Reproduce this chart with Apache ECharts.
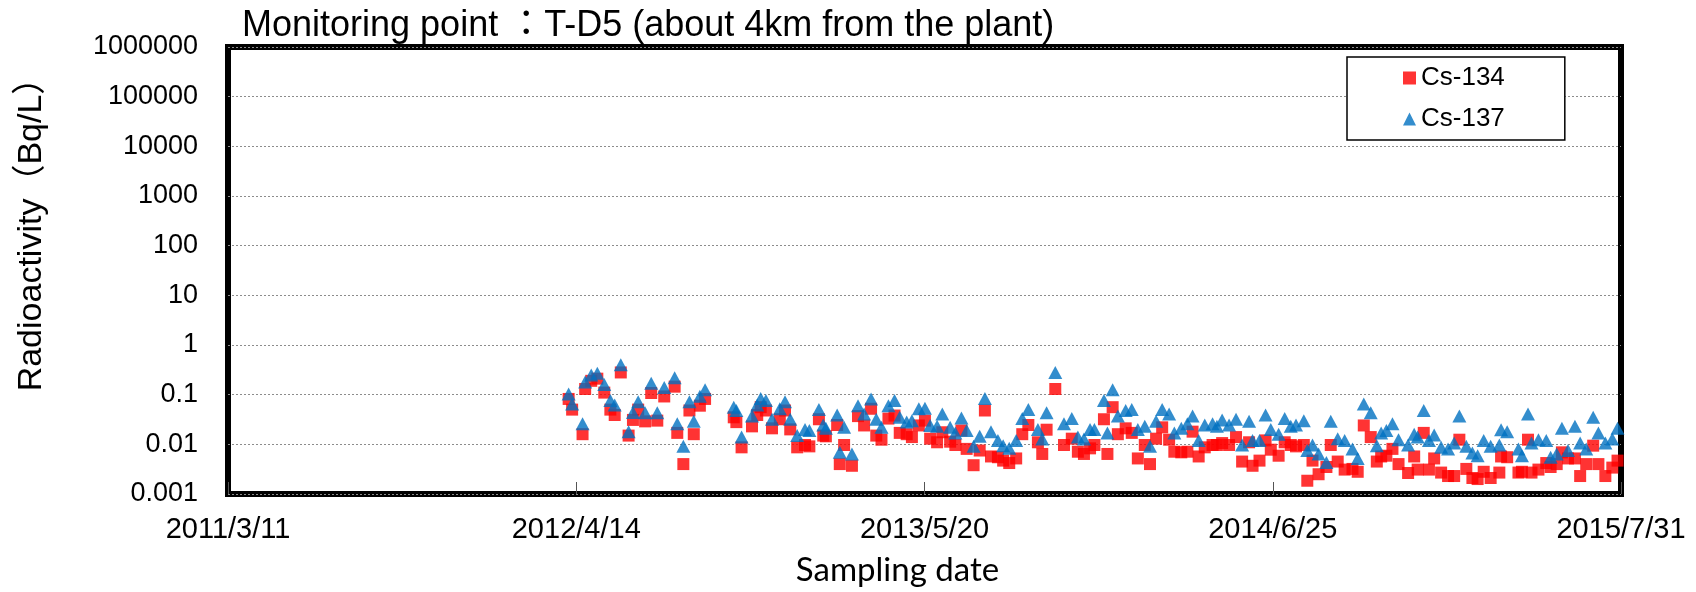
<!DOCTYPE html>
<html>
<head>
    <meta charset="utf-8">
    <style>
        html, body {
            height: 100%;
        }

        * {
            margin: 0;
            padding: 0;
        }

        #container {
            width: 1696px;
            height: 592px;
            background: #fff;
        }
    </style>
</head>
<body>
<div id="container"></div>
<script type="text/javascript" src="https://cdn.jsdelivr.net/npm/echarts@6/dist/echarts.min.js"></script>
<script type="text/javascript">
    // sampling day, counted in days after 2011/3/11
    let sampleDays = [
        392, 396, 408, 411, 418, 425, 433, 440, 445, 452,
        461, 466, 472, 480, 487, 494, 502, 514, 517, 524,
        531, 536, 543, 549, 582, 585, 591, 603, 609, 613,
        619, 626, 635, 641, 647, 655, 664, 669, 680, 685,
        688, 701, 704, 709, 718, 725, 732, 740, 746, 752,
        760, 767, 773, 781, 787, 795, 802, 808, 816, 822,
        831, 837, 844, 850, 858, 865, 871, 878, 886, 892,
        899, 907, 914, 921, 932, 937, 942, 952, 962, 971,
        978, 985, 992, 997, 1008, 1012, 1018, 1024, 1033, 1040,
        1047, 1055, 1061, 1068, 1075, 1083, 1089, 1097, 1104, 1110,
        1117, 1124, 1133, 1138, 1144, 1152, 1160, 1167, 1175, 1179,
        1187, 1194, 1200, 1209, 1216, 1223, 1229, 1238, 1242, 1248,
        1255, 1264, 1269, 1277, 1285, 1294, 1300, 1307, 1315, 1322,
        1327, 1333, 1340, 1347, 1358, 1365, 1369, 1376, 1382, 1388,
        1396, 1404, 1411, 1417, 1425, 1432, 1438, 1445, 1453, 1463,
        1465, 1472, 1485, 1489, 1496, 1500, 1508, 1517, 1522, 1529,
        1535, 1542, 1550, 1556, 1563, 1571, 1577, 1585, 1593, 1599
    ];
    let cs134 = [
        0.082, 0.050, 0.016, 0.13, 0.19, 0.21, 0.11, 0.050, 0.039, 0.28,
        0.015, 0.031, 0.050, 0.029, 0.108, 0.030, 0.092, 0.145, 0.017, 0.004,
        0.048, 0.016, 0.060, 0.082, 0.035, 0.028, 0.0087, 0.023, 0.039, 0.056,
        0.048, 0.021, 0.032, 0.048, 0.020, 0.0087, 0.0097, 0.0091, 0.032, 0.015,
        0.0145, 0.0245, 0.004, 0.0097, 0.0037, 0.037, 0.024, 0.052, 0.015, 0.0124,
        0.033, 0.038, 0.017, 0.016, 0.014, 0.024, 0.030, 0.013, 0.011, 0.0175,
        0.0113, 0.0097, 0.019, 0.0081, 0.0038, 0.0075, 0.048, 0.0057, 0.0055, 0.0047,
        0.0042, 0.0052, 0.016, 0.0245, 0.011, 0.0064, 0.0197, 0.13, 0.0097, 0.013,
        0.0071, 0.0064, 0.0083, 0.0097, 0.032, 0.0064, 0.056, 0.016, 0.021, 0.017,
        0.0052, 0.0097, 0.004, 0.013, 0.022, 0.0124, 0.0071, 0.0069, 0.0071, 0.018,
        0.0057, 0.0087, 0.0097, 0.0097, 0.0106, 0.0097, 0.014, 0.0045, 0.011, 0.0037,
        0.0047, 0.012, 0.0078, 0.0059, 0.011, 0.0097, 0.0091, 0.0097, 0.00185, 0.0047,
        0.0025, 0.0035, 0.0097, 0.0045, 0.0031, 0.0032, 0.0028, 0.024, 0.014, 0.0045,
        0.0057, 0.0059, 0.0081, 0.004, 0.00265, 0.0057, 0.0031, 0.017, 0.0031, 0.0052,
        0.0027, 0.0023, 0.0023, 0.0124, 0.0032, 0.0021, 0.002, 0.0028, 0.0021, 0.0027,
        0.0057, 0.0055, 0.0027, 0.0028, 0.0124, 0.0027, 0.0031, 0.0042, 0.0035, 0.004,
        0.0069, 0.0052, 0.0052, 0.0023, 0.004, 0.0094, 0.004, 0.0023, 0.0034, 0.0047
    ];
    let cs137 = [
        0.103, 0.065, 0.026, 0.18, 0.25, 0.27, 0.16, 0.076, 0.062, 0.40,
        0.018, 0.044, 0.072, 0.043, 0.17, 0.043, 0.14, 0.22, 0.026, 0.0091,
        0.072, 0.029, 0.093, 0.126, 0.056, 0.048, 0.014, 0.037, 0.062, 0.084,
        0.076, 0.032, 0.052, 0.072, 0.032, 0.015, 0.020, 0.019, 0.050, 0.0245,
        0.021, 0.039, 0.0069, 0.022, 0.0064, 0.060, 0.041, 0.082, 0.032, 0.022,
        0.060, 0.076, 0.035, 0.028, 0.030, 0.052, 0.053, 0.024, 0.023, 0.041,
        0.022, 0.017, 0.034, 0.019, 0.0091, 0.0145, 0.084, 0.018, 0.012, 0.0094,
        0.0083, 0.012, 0.033, 0.050, 0.020, 0.0128, 0.043, 0.28, 0.026, 0.033,
        0.014, 0.0128, 0.020, 0.020, 0.076, 0.017, 0.126, 0.037, 0.048, 0.050,
        0.020, 0.023, 0.0091, 0.029, 0.050, 0.041, 0.017, 0.021, 0.026, 0.037,
        0.012, 0.0245, 0.026, 0.023, 0.031, 0.0245, 0.032, 0.0097, 0.029, 0.012,
        0.012, 0.039, 0.020, 0.016, 0.033, 0.023, 0.0245, 0.030, 0.0075, 0.0097,
        0.0064, 0.0043, 0.029, 0.013, 0.012, 0.0081, 0.0052, 0.065, 0.043, 0.0094,
        0.017, 0.019, 0.026, 0.0124, 0.0097, 0.016, 0.014, 0.048, 0.012, 0.0154,
        0.0087, 0.0081, 0.0106, 0.037, 0.0091, 0.0067, 0.0059, 0.012, 0.0091, 0.0097,
        0.0197, 0.018, 0.0081, 0.0059, 0.041, 0.0106, 0.0124, 0.012, 0.0055, 0.0064,
        0.021, 0.0075, 0.023, 0.0106, 0.0081, 0.035, 0.017, 0.0106, 0.0128, 0.021
    ];
    // x axis: 2011/3/11 .. 2015/7/31 split in four equal steps
    let xTickLabels = ['2011/3/11', '2012/4/14', '2013/5/20', '2014/6/25', '2015/7/31'];
    let xSpan = 1603;
    let xStep = xSpan / 4;

    let dom = document.getElementById("container");
    let myChart = echarts.init(dom, null, {renderer: 'canvas'});
    let font = '"Liberation Sans", Arial, "Noto Sans CJK JP", sans-serif';

    function pairs(vals) {
        return vals.map(function (v, i) {
            return [sampleDays[i], v];
        });
    }

    let option = {
        animation: false,
        backgroundColor: '#fff',
        textStyle: {fontFamily: font, color: '#000'},
        title: {
            text: 'Monitoring point ：T-D5 (about 4km from the plant)',
            left: 242,
            top: 8,
            padding: 0,
            textStyle: {fontFamily: font, fontSize: 36, fontWeight: 'normal', color: '#000'}
        },
        legend: {
            orient: 'vertical',
            left: 1347,
            top: 57,
            padding: [8, 60, 8, 56],
            itemGap: 15,
            itemWidth: 13,
            itemHeight: 13,
            borderColor: '#000',
            borderWidth: 1.5,
            backgroundColor: '#fff',
            textStyle: {fontFamily: font, fontSize: 26, color: '#000'},
            data: [
                {name: 'Cs-134', icon: 'rect'},
                {name: 'Cs-137', icon: 'triangle'}
            ]
        },
        grid: {
            left: 228,
            right: 75,
            top: 47,
            bottom: 97,
            show: true,
            borderColor: '#000',
            borderWidth: 6,
            containLabel: false
        },
        xAxis: {
            type: 'value',
            min: 0,
            max: xSpan,
            interval: xStep,
            name: 'Sampling date',
            nameLocation: 'middle',
            nameGap: 60,
            nameTextStyle: {
                fontFamily: 'Lato, "Open Sans", sans-serif',
                fontSize: 33,
                color: '#000',
                padding: [0, 54, 0, 0]
            },
            axisLine: {show: false},
            axisTick: {show: true, inside: true, length: 12, lineStyle: {color: '#555', width: 1}},
            splitLine: {show: false},
            axisLabel: {
                fontSize: 29,
                color: '#000',
                margin: 21,
                showMinLabel: true,
                showMaxLabel: true,
                formatter: function (v) {
                    return xTickLabels[Math.round(v / xStep)];
                }
            }
        },
        yAxis: {
            type: 'log',
            logBase: 10,
            min: 0.001,
            max: 1000000,
            splitNumber: 9,
            axisLine: {show: false},
            axisTick: {show: false},
            splitLine: {show: true, lineStyle: {color: '#8c8c8c', type: [2, 2], width: 1}},
            axisLabel: {
                fontSize: 27,
                color: '#000',
                margin: 30,
                formatter: function (v) {
                    return v >= 1 ? String(Math.round(v)) : String(parseFloat(v.toPrecision(1)));
                }
            }
        },
        graphic: [{
            type: 'text',
            x: 32,
            y: 226,
            rotation: Math.PI / 2,
            style: {
                text: 'Radioactivity（Bq/L）',
                font: '34px ' + font,
                fill: '#000',
                align: 'center',
                verticalAlign: 'middle'
            }
        }],
        series: [{
            name: 'Cs-134',
            type: 'scatter',
            symbol: 'rect',
            symbolSize: 12,
            itemStyle: {color: '#ff0000'},
            data: pairs(cs134)
        }, {
            name: 'Cs-137',
            type: 'scatter',
            symbol: 'triangle',
            symbolSize: [14, 13],
            itemStyle: {color: '#0070c0'},
            data: pairs(cs137)
        }]
    };
    myChart.setOption(option, true);
</script>
</body>
</html>
